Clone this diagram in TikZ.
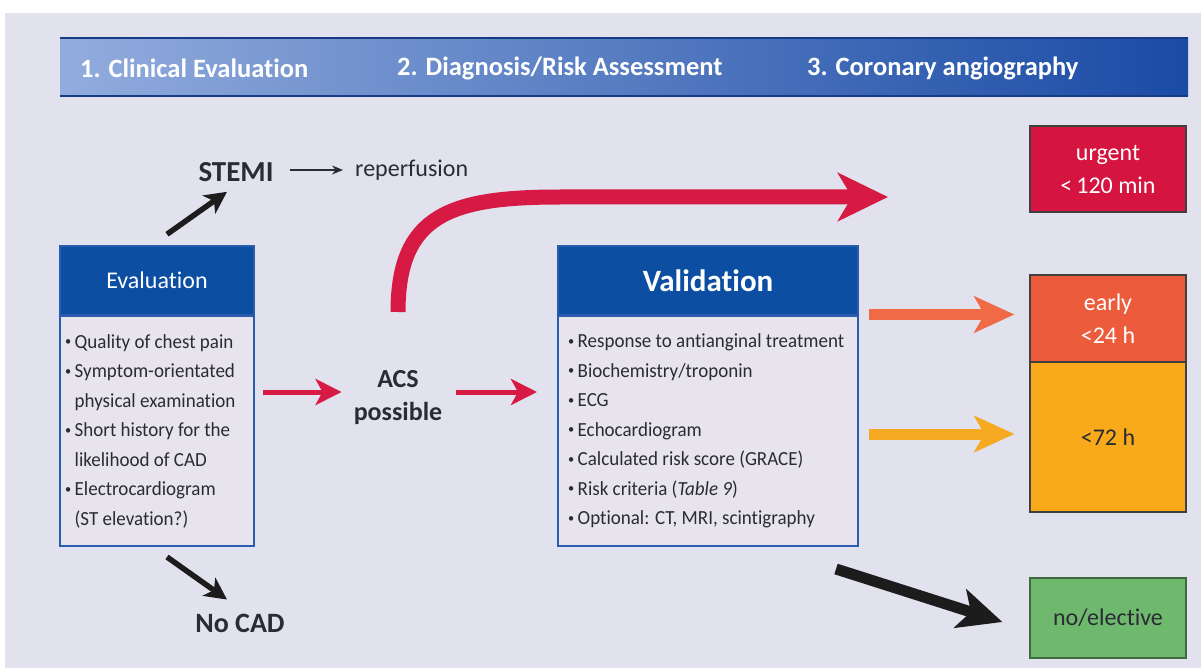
\documentclass[tikz,border=0pt]{standalone}
\usepackage{fontspec}
\setmainfont{Carlito}[Ligatures=CommonOff]
\newfontfamily\bodyfont{Carlito}[FakeStretch=0.95,Ligatures=CommonOff]
\usetikzlibrary{arrows.meta,calc}
\definecolor{bgc}{HTML}{E1E2EE}
\definecolor{bodyc}{HTML}{E7E4EE}
\definecolor{blueh}{HTML}{0B4EA2}
\definecolor{borderc}{HTML}{2A5DB0}
\definecolor{hdl}{HTML}{92ACDD}
\definecolor{hdr}{HTML}{1A4BA5}
\definecolor{redc}{HTML}{D61A43}
\definecolor{urgc}{HTML}{D51440}
\definecolor{orac}{HTML}{EF6A45}
\definecolor{earc}{HTML}{EB5B3C}
\definecolor{yelac}{HTML}{F6AA22}
\definecolor{yelc}{HTML}{F9AA1A}
\definecolor{grnc}{HTML}{6FB96F}
\definecolor{grnb}{HTML}{3F6A3F}
\definecolor{txtc}{HTML}{2B2B33}
\definecolor{blkc}{HTML}{1C1C1C}
\newcommand\bul{\raisebox{0.12em}{\fontsize{13}{13}\selectfont•}\,}
\newcommand\ind{\hphantom{\bul}}
\begin{document}
\begin{tikzpicture}[x=1pt,y=-1pt,
  hdrtxt/.style={text=white, font=\fontsize{26.5}{30}\selectfont\bfseries, anchor=west, inner sep=0},
  boxhead/.style={fill=blueh, draw=borderc, line width=1.5pt, text=white, minimum height=69pt, inner sep=0},
  boxbody/.style={fill=bodyc, draw=borderc, line width=2pt, inner sep=0, anchor=north, minimum height=230pt},
  bodytxt/.style={align=left, text=txtc, font=\bodyfont\fontsize{20}{29.5}\selectfont, inner sep=0, anchor=west},
  plain/.style={text=txtc, inner sep=0},
  boldtxt/.style={text=txtc, inner sep=0, font=\fontsize{26}{33}\selectfont\bfseries, align=center},
  catbox/.style={draw=black!75, line width=1.2pt, minimum width=156pt, inner sep=0, align=center, font=\fontsize{24}{33}\selectfont},
  redthin/.style={draw=redc, line width=5pt, -{Stealth[length=26pt,width=26pt,inset=7pt]}},
  redthick/.style={draw=redc, line width=15pt, -{Stealth[length=50pt,width=48pt,inset=14pt]}},
  widearr/.style={line width=11pt, -{Stealth[length=40pt,width=36pt,inset=10pt]}},
  blksmall/.style={draw=blkc, line width=5.5pt, -{Stealth[length=22pt,width=22pt,inset=6pt]}},
  blkbig/.style={draw=blkc, line width=11pt, -{Stealth[length=44pt,width=40pt,inset=11pt]}},
  thinarr/.style={draw=txtc, line width=1.5pt, -{Stealth[length=11pt,width=9pt]}}
]
\useasboundingbox (0,0) rectangle (1201,668);
\fill[white] (0,0) rectangle (1201,668);
\fill[bgc] (5,13) rectangle (1201,668);
% header bar
\shade[left color=hdl,right color=hdr] (60,38) rectangle (1188,96);
\draw[hdr!80!black, line width=1.5pt] (60,38) -- (1188,38) (60,96) -- (1188,96);
\node[hdrtxt] (h1) at (80,68) {1. Clinical Evaluation};
\node[hdrtxt] (h2) at (397,68) {2. Diagnosis/Risk Assessment};
\node[hdrtxt] (h3) at (807,68) {3. Coronary angiography};
% evaluation box
\node[boxhead, minimum width=194pt, font=\fontsize{24}{28}\selectfont] (evalh) at (157,280.5) {Evaluation};
\node[boxbody, minimum width=194pt] (evalb) at (157,315) {};
\node[bodytxt] (evalt) at ($(evalb.west)+(6,0)$) {%
\bul Quality of chest pain\\
\bul Symptom-orientated\\
\ind physical examination\\
\bul Short history for the\\
\ind likelihood of CAD\\
\bul Electrocardiogram\\
\ind (ST elevation?)};
% validation box
\node[boxhead, minimum width=300pt, font=\fontsize{31}{34}\selectfont\bfseries] (valh) at (708,280.5) {Validation};
\node[boxbody, minimum width=300pt] (valb) at (708,315) {};
\node[bodytxt] (valt) at ($(valb.west)+(11,0)$) {%
\bul Response to antianginal treatment\\
\bul Biochemistry/troponin\\
\bul ECG\\
\bul Echocardiogram\\
\bul Calculated risk score (GRACE)\\
\bul Risk criteria (\textit{Table 9})\\
\bul Optional: CT, MRI, scintigraphy};
% texts
\node[boldtxt, font=\fontsize{29}{33}\selectfont\bfseries] (stemi) at (236,172) {STEMI};
\node[plain, anchor=west, font=\fontsize{24}{28}\selectfont] (rep) at (355,170) {reperfusion};
\node[boldtxt] (acs) at (398,398) {ACS\\possible};
\node[boldtxt, font=\fontsize{28}{33}\selectfont\bfseries] (nocad) at (240,623) {No CAD};
% category boxes
\node[catbox, fill=urgc, text=white, minimum height=86pt] (urg) at (1108,169) {urgent\\<\,120 min};
\node[catbox, fill=earc, text=white, minimum height=87pt] (early) at (1108,318.5) {early\\<24 h};
\node[catbox, fill=yelc, text=txtc, minimum height=150pt] (d72) at (1108,437) {<72 h};
\node[catbox, fill=grnc, draw=grnb, text=txtc, minimum height=80pt] (noel) at (1108,618) {no/elective};
% connectors
\draw[thinarr] ($(stemi.east)+(16,-2)$) -- ($(rep.west)+(-12,0)$);
\draw[blksmall] ($(evalh.north)+(10,-11)$) -- ($(stemi.south)+(-9,10)$);
\draw[blksmall] ($(evalb.south)+(10,10)$) -- ($(nocad.north)+(-13,-14)$);
\draw[redthin] ($(evalb.east |- acs.west)+(8,-6)$) -- ($(acs.west)+(-12,-6)$);
\draw[redthin] ($(acs.east)+(14,-6)$) -- ($(valb.west |- acs.west)+(-20,-6)$);
\coordinate (cs) at (398,312);
\coordinate (ce) at (888,197);
\draw[redthick] (cs) .. controls (398,215) and (450,197) .. (560,197) -- (ce);
\draw[widearr, draw=orac] ($(valb.east |- early.west)+(10,-4)$) -- ($(early.west)+(-15,-4)$);
\draw[widearr, draw=yelac] ($(valb.east |- d72.west)+(10,-3)$) -- ($(d72.west)+(-15,-3)$);
\draw[blkbig] ($(valb.south east)+(-23,22)$) -- ($(noel.west)+(-27,4)$);
\end{tikzpicture}
\end{document}
